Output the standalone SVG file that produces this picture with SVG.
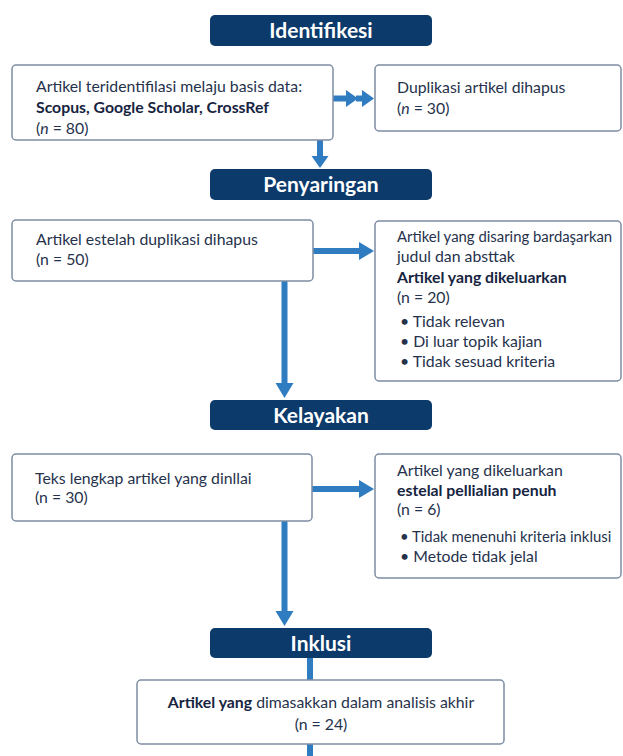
<svg xmlns="http://www.w3.org/2000/svg" width="623" height="756" viewBox="0 0 623 756">
<style>
.hdr{fill:#0c3a6b}
.hdrt{fill:#ffffff;font-family:Lato,"Liberation Sans",sans-serif;font-size:21px;font-weight:bold;text-anchor:middle}
.box{fill:#ffffff;stroke:#7d8ca3;stroke-width:1.5}
.t{fill:#26324c;font-family:Lato,"Liberation Sans",sans-serif;font-size:15.8px}
.s{font-size:14.9px}
.b{font-weight:bold;fill:#172441}
.c{text-anchor:middle}
.ln{stroke:#2f7cc0;stroke-width:6;fill:none}
</style>
<defs>
<marker id="ah" markerUnits="userSpaceOnUse" markerWidth="16" markerHeight="18" refX="0" refY="9" orient="auto" overflow="visible">
<path d="M0,0 L15,9 L0,18 Z" fill="#2f7cc0"/>
</marker>
<marker id="ahs" markerUnits="userSpaceOnUse" markerWidth="13" markerHeight="17" refX="0" refY="8.5" orient="auto" overflow="visible">
<path d="M0,0 L12,8.5 L0,17 Z" fill="#2f7cc0"/>
</marker>
</defs>
<rect width="623" height="756" fill="#ffffff"/>
<g id="connectors">
<path class="ln" d="M333,98.5 H346" marker-end="url(#ahs)"/>
<path class="ln" d="M356,98.5 H362" marker-end="url(#ahs)"/>
<path class="ln" d="M320,140 V156" marker-end="url(#ahs)"/>
<path class="ln" d="M313,251 H359" marker-end="url(#ah)"/>
<path class="ln" d="M284.5,281 V383" marker-end="url(#ah)"/>
<path class="ln" d="M312,489 H359" marker-end="url(#ah)"/>
<path class="ln" d="M284.5,521 V611" marker-end="url(#ah)"/>
<path class="ln" d="M310,658 V680"/>
<path class="ln" d="M310,744 V756"/>
</g>
<g id="h-identifikasi">
<rect class="hdr" x="210" y="15" width="222" height="31" rx="5"/>
<text class="hdrt" x="321" y="37.5">Identifikesi</text>
</g>
<g id="box-a">
<rect class="box" x="12" y="65" width="321" height="75" rx="4"/>
<text class="t" x="36" y="92">Artikel teridentifilasi melaju basis data:</text>
<text class="t b" x="36" y="113">Scopus, Google Scholar, CrossRef</text>
<text class="t" x="36" y="134">(<tspan font-style="italic">n</tspan> = 80)</text>
</g>
<g id="box-b">
<rect class="box" x="375" y="65" width="246" height="66" rx="4"/>
<text class="t" x="397" y="93">Duplikasi artikel dihapus</text>
<text class="t" x="397" y="114">(<tspan font-style="italic">n</tspan> = 30)</text>
</g>
<g id="h-penyaringan">
<rect class="hdr" x="210" y="169" width="222" height="31" rx="5"/>
<text class="hdrt" x="321" y="191.5">Penyaringan</text>
</g>
<g id="box-c">
<rect class="box" x="12" y="220" width="301" height="61" rx="4"/>
<text class="t" x="36" y="245">Artikel estelah duplikasi dihapus</text>
<text class="t" x="36" y="265">(n = 50)</text>
</g>
<g id="box-d">
<rect class="box" x="375" y="221" width="246" height="160" rx="4"/>
<text class="t s" x="397" y="242">Artikel yang disaring bardaşarkan</text>
<text class="t" x="397" y="262">judul dan absttak</text>
<text class="t b" x="397" y="283">Artikel yang dikeluarkan</text>
<text class="t" x="397" y="303">(n = 20)</text>
<text class="t" x="400" y="327">• Tidak relevan</text>
<text class="t" x="400" y="347">• Di luar topik kajian</text>
<text class="t" x="400" y="367">• Tidak sesuad kriteria</text>
</g>
<g id="h-kelayakan">
<rect class="hdr" x="210" y="400" width="222" height="30" rx="5"/>
<text class="hdrt" x="321" y="422.5">Kelayakan</text>
</g>
<g id="box-e">
<rect class="box" x="12" y="454" width="300" height="67" rx="4"/>
<text class="t" x="35" y="484">Teks lengkap artikel yang dinllai</text>
<text class="t" x="35" y="503">(n = 30)</text>
</g>
<g id="box-f">
<rect class="box" x="375" y="454" width="246" height="124" rx="4"/>
<text class="t" x="397" y="476">Artikel yang dikeluarkan</text>
<text class="t b" x="397" y="496">estelal pellialian penuh</text>
<text class="t" x="397" y="515">(n = 6)</text>
<text class="t s" x="400" y="542">• Tidak menenuhi kriteria inklusi</text>
<text class="t" x="400" y="562">• Metode tidak jelal</text>
</g>
<g id="h-inklusi">
<rect class="hdr" x="210" y="628" width="222" height="30" rx="5"/>
<text class="hdrt" x="321" y="650.5">Inklusi</text>
</g>
<g id="box-g">
<rect class="box" x="137" y="680" width="367" height="64" rx="4"/>
<text class="t c" x="321" y="708"><tspan class="b">Artikel yang</tspan> dimasakkan dalam analisis akhir</text>
<text class="t c" x="321" y="730">(n = 24)</text>
</g>
</svg>
